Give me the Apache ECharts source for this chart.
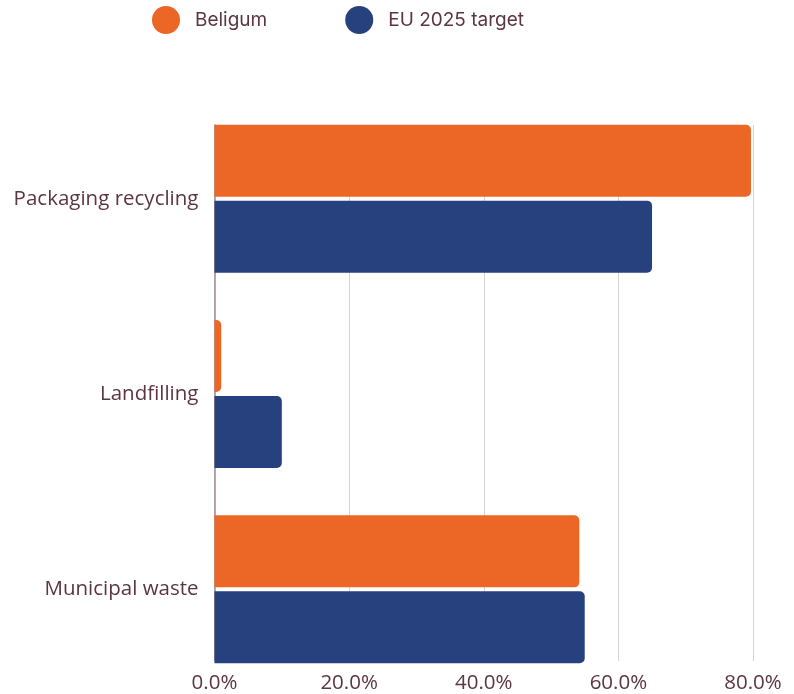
<!DOCTYPE html>
<html>
<head>
<meta charset="utf-8">
<script src="https://cdn.jsdelivr.net/npm/echarts@6/dist/echarts.min.js"></script>
<style>
  html, body { margin: 0; padding: 0; background: #ffffff; }
  #chart { width: 794px; height: 694px; }
</style>
</head>
<body>
<div id="chart"></div>
<script>
// Waste indicators: Belgium vs. EU 2025 targets
const categories = ['Packaging recycling', 'Landfilling', 'Municipal waste'];
const belgium = [0.797, 0.01, 0.542];
const euTarget = [0.65, 0.10, 0.55];
const valueTicks = [0, 0.2, 0.4, 0.6, 0.8];

const textColor = '#5b3544';
const chart = echarts.init(document.getElementById('chart'));

const left = 214.5, right = 41;

chart.setOption({
  animation: false,
  legend: {
    top: 1,
    left: 147,
    icon: 'circle',
    itemWidth: 28,
    itemHeight: 28,
    itemGap: 78,
    textStyle: { fontFamily: 'Inter', fontSize: 19, color: textColor, padding: [0, 0, 0, 10] },
    data: ['Beligum', 'EU 2025 target']
  },
  grid: [
    // frame grid: gridlines, value labels, baseline
    { left: left, right: right, top: 125, bottom: 31 },
    // bar grid: categories with outer padding
    { left: left, right: right, top: 101, bottom: 7 }
  ],
  xAxis: [
    {
      gridIndex: 0,
      type: 'value',
      min: valueTicks[0],
      max: valueTicks[valueTicks.length - 1],
      interval: 0.2,
      axisLine: { show: false },
      axisTick: { show: false },
      splitLine: { lineStyle: { color: '#d4d4d4', width: 1 } },
      axisLabel: {
        margin: 12,
        fontFamily: 'Open Sans',
        fontSize: 20.5,
        color: textColor,
        formatter: v => (v * 100).toFixed(1) + '%'
      }
    },
    {
      gridIndex: 1,
      type: 'value',
      min: valueTicks[0],
      max: valueTicks[valueTicks.length - 1],
      show: false
    }
  ],
  yAxis: [
    {
      gridIndex: 0,
      type: 'category',
      data: categories,
      inverse: true,
      axisLine: { show: true, lineStyle: { color: '#a58a98', width: 1.5 } },
      axisTick: { show: false },
      axisLabel: { show: false },
      splitLine: { show: false }
    },
    {
      gridIndex: 1,
      type: 'category',
      data: categories,
      inverse: true,
      axisLine: { show: false },
      axisTick: { show: false },
      axisLabel: {
        margin: 16,
        fontFamily: 'Open Sans',
        fontSize: 20.5,
        color: textColor
      }
    }
  ],
  series: [
    {
      name: 'Beligum',
      type: 'bar',
      xAxisIndex: 1,
      yAxisIndex: 1,
      data: belgium,
      barWidth: 72,
      barGap: '5.5%',
      itemStyle: { color: '#ec6726', borderRadius: [0, 5, 5, 0] },
      z: 5
    },
    {
      name: 'EU 2025 target',
      type: 'bar',
      xAxisIndex: 1,
      yAxisIndex: 1,
      data: euTarget,
      barWidth: 72,
      barGap: '5.5%',
      itemStyle: { color: '#27417e', borderRadius: [0, 5, 5, 0] },
      z: 5
    }
  ]
});
</script>
</body>
</html>
